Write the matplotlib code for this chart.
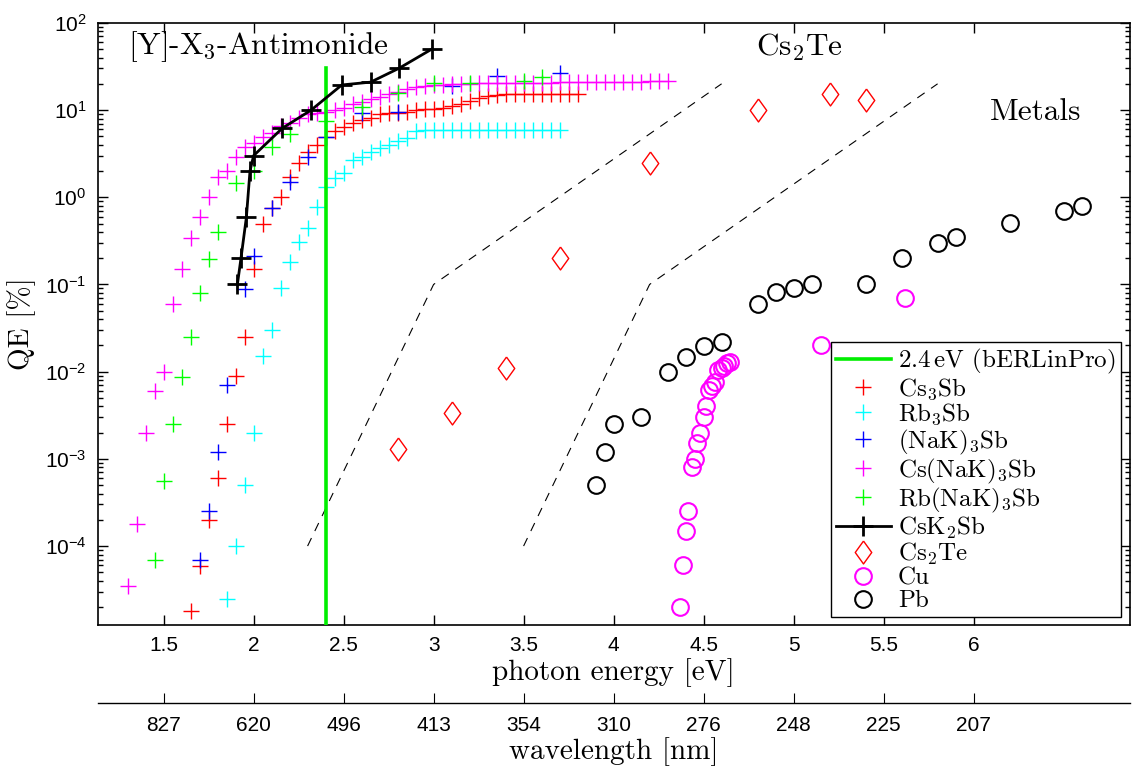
import matplotlib
matplotlib.use('Agg')  # no display
import matplotlib.pyplot as plt
from matplotlib.font_manager import FontProperties
from matplotlib.ticker import LogLocator, NullFormatter

# ---- data (photon energy in eV, QE in %) ----
cs3sb_e = [1.65, 1.70, 1.75, 1.80, 1.85, 1.90, 1.95, 2.00, 2.05, 2.10, 2.15, 2.20, 2.25, 2.30, 2.35,
           2.40, 2.45, 2.50, 2.55, 2.60, 2.65, 2.70, 2.75, 2.80, 2.85, 2.90, 2.95, 3.00, 3.05, 3.10,
           3.15, 3.20, 3.25, 3.30, 3.35, 3.40, 3.45, 3.50, 3.55, 3.60, 3.65, 3.70, 3.75, 3.80]
cs3sb_qe = [1.8e-5, 5.9e-5, 2.0e-4, 6.0e-4, 2.5e-3, 9.0e-3, 0.025, 0.15, 0.5, 0.75, 1.0, 1.7, 2.5, 3.3, 4.0,
            4.9, 5.7, 6.4, 7.1, 7.7, 8.1, 9.0, 9.2, 9.3, 9.5, 10.0, 10.3, 10.4, 10.6, 11.1,
            11.7, 12.7, 13.7, 14.5, 15.0, 15.2, 15.3, 15.3, 15.3, 15.3, 15.3, 15.3, 15.3, 15.3]

rb3sb_e = [1.85, 1.90, 1.95, 2.00, 2.05, 2.10, 2.15, 2.20, 2.25, 2.30, 2.35, 2.40, 2.45, 2.50, 2.55,
           2.60, 2.65, 2.70, 2.75, 2.80, 2.85, 2.90, 2.95, 3.00, 3.05, 3.10, 3.15, 3.20, 3.25, 3.30,
           3.35, 3.40, 3.45, 3.50, 3.55, 3.60, 3.65, 3.70]
rb3sb_qe = [2.5e-5, 1.0e-4, 5.0e-4, 2.0e-3, 0.015, 0.03, 0.09, 0.18, 0.31, 0.44, 0.77, 1.3, 1.66, 1.9, 2.7,
            2.9, 3.3, 3.7, 4.0, 4.4, 4.8, 5.7, 5.9, 5.9, 5.9, 5.9, 5.9, 5.9, 5.9, 5.9,
            5.9, 5.9, 5.9, 5.9, 5.9, 5.9, 5.9, 5.9]

nak3sb_e = [1.70, 1.75, 1.80, 1.85, 1.95, 2.00, 2.10, 2.20, 2.30, 2.40, 2.60, 2.80, 3.10, 3.35, 3.70]
nak3sb_qe = [7.0e-5, 2.5e-4, 1.2e-3, 7.0e-3, 0.088, 0.21, 0.75, 1.5, 2.9, 4.9, 9.2, 9.5, 18.8, 24.5, 26.5]

csnak3sb_e = [1.30, 1.35, 1.40, 1.45, 1.50, 1.55, 1.60, 1.65, 1.70, 1.75, 1.80, 1.85, 1.90, 1.95, 2.00,
              2.05, 2.10, 2.15, 2.20, 2.25, 2.30, 2.35, 2.40, 2.45, 2.50, 2.55, 2.60, 2.65, 2.70, 2.75,
              2.80, 2.85, 2.90, 2.95, 3.00, 3.05, 3.10, 3.15, 3.20, 3.25, 3.30, 3.35, 3.40, 3.45, 3.50,
              3.55, 3.60, 3.65, 3.70, 3.75, 3.80, 3.85, 3.90, 3.95, 4.00, 4.05, 4.10, 4.15, 4.20, 4.25,
              4.30]
csnak3sb_qe = [3.5e-5, 1.8e-4, 2.0e-3, 6.0e-3, 1.0e-2, 0.06, 0.15, 0.34, 0.6, 1.0, 1.7, 2.0, 2.9, 3.8, 4.2,
               4.9, 5.4, 6.5, 7.1, 8.1, 9.0, 9.2, 9.5, 10.0, 10.5, 11.7, 12.4, 13.4, 14.1, 15.3,
               16.1, 17.4, 18.4, 19.0, 19.4, 19.6, 19.8, 20.0, 20.1, 20.2, 20.3, 20.4, 20.5, 20.5, 20.6,
               20.6, 20.7, 20.7, 20.8, 20.8, 20.9, 20.9, 21.0, 21.0, 21.1, 21.1, 21.2, 21.2, 21.3, 21.3,
               21.4]

rbnak3sb_e = [1.45, 1.50, 1.55, 1.60, 1.65, 1.70, 1.75, 1.80, 1.90, 2.00, 2.10, 2.20, 2.40, 2.60, 2.80,
              3.00, 3.20, 3.50, 3.60]
rbnak3sb_qe = [7.0e-5, 5.5e-4, 2.5e-3, 8.7e-3, 0.025, 0.08, 0.195, 0.40, 1.46, 2.0, 3.8, 5.3, 7.5, 10.8, 15.7,
               20.4, 20.4, 21.5, 23.9]

csk2sb_e = [1.91, 1.93, 1.96, 1.98, 2.00, 2.16, 2.32, 2.49, 2.65, 2.81, 2.99]
csk2sb_qe = [0.10, 0.20, 0.59, 2.0, 3.0, 6.2, 10.0, 19.4, 20.9, 30.3, 50.0]

cs2te_e = [2.8, 3.1, 3.4, 3.7, 4.2, 4.8, 5.2, 5.4]
cs2te_qe = [1.3e-3, 3.4e-3, 0.011, 0.20, 2.5, 10.0, 15.2, 13.0]

cu_e = [4.37, 4.385, 4.40, 4.415, 4.435, 4.45, 4.465, 4.48, 4.50, 4.515, 4.53, 4.545, 4.565, 4.58,
        4.60, 4.615, 4.63, 4.645, 5.15, 5.62]
cu_qe = [2.0e-5, 6.0e-5, 1.5e-4, 2.5e-4, 8.0e-4, 1.0e-3, 1.5e-3, 2.0e-3, 3.0e-3, 4.0e-3, 6.2e-3, 6.8e-3,
         7.6e-3, 0.0105, 0.011, 0.0116, 0.0126, 0.0129, 0.020, 0.070]

pb_e = [3.9, 3.95, 4.0, 4.15, 4.3, 4.4, 4.5, 4.6, 4.8, 4.9, 5.0, 5.1, 5.4, 5.6, 5.8, 5.9, 6.2, 6.5, 6.6]
pb_qe = [5.0e-4, 1.2e-3, 2.5e-3, 3.0e-3, 0.01, 0.0147, 0.0197, 0.022, 0.06, 0.082, 0.091, 0.10, 0.10,
         0.20, 0.30, 0.35, 0.51, 0.69, 0.79]

# dashed guide lines between the groups
guide1_e = [2.3, 3.0, 4.6]
guide1_qe = [1e-4, 0.1, 20]
guide2_e = [3.5, 4.2, 5.8]
guide2_qe = [1e-4, 0.1, 20]

laser_e = 2.4
laser_qe = [1e-6, 30]

e_ticks = [1.5, 2, 2.5, 3, 3.5, 4, 4.5, 5, 5.5, 6]
e_labels = ['1.5', '2', '2.5', '3', '3.5', '4', '4.5', '5', '5.5', '6']
wl_labels = ['827', '620', '496', '413', '354', '310', '276', '248', '225', '207']

plt.rcParams['font.family'] = ['Liberation Sans', 'DejaVu Sans']
plt.rcParams['xtick.direction'] = 'in'
plt.rcParams['ytick.direction'] = 'in'

RED, CYAN, BLUE, MAGENTA, GREEN = '#ff0000', '#00ffff', '#0000ff', '#ff00ff', '#00ff00'


def cm(size):
    return FontProperties(family=['cmr10', 'DejaVu Serif'], size=size, math_fontfamily='cm')


fig = plt.figure(figsize=(11.34, 7.67), dpi=100)
ax = fig.add_axes([0.086, 0.185, 0.9105, 0.7852])

ax.plot([laser_e, laser_e], laser_qe, color='#00ee00', lw=2.6, label='2.4$\\,$eV (bERLinPro)', zorder=3)
plus = dict(ls='none', marker='+', ms=12, mew=1.0)
ax.plot(cs3sb_e, cs3sb_qe, color=RED, label='Cs$_3$Sb', **plus)
ax.plot(rb3sb_e, rb3sb_qe, color=CYAN, label='Rb$_3$Sb', **plus)
ax.plot(nak3sb_e, nak3sb_qe, color=BLUE, label='(NaK)$_3$Sb', **plus)
ax.plot(csnak3sb_e, csnak3sb_qe, color=MAGENTA, label='Cs(NaK)$_3$Sb', **plus)
ax.plot(rbnak3sb_e, rbnak3sb_qe, color=GREEN, label='Rb(NaK)$_3$Sb', **plus)
ax.plot(csk2sb_e, csk2sb_qe, color='k', lw=2, marker='+', ms=14, mew=2, label='CsK$_2$Sb', zorder=4)
diamond = [(0, 1), (0.72, 0), (0, -1), (-0.72, 0), (0, 1)]
ax.plot(cs2te_e, cs2te_qe, ls='none', marker=diamond, ms=16.5, mfc='none', mec=RED, mew=1.0, label='Cs$_2$Te')
ax.plot(cu_e, cu_qe, ls='none', marker='o', ms=12, mfc='none', mec=MAGENTA, mew=1.5, label='Cu')
ax.plot(pb_e, pb_qe, ls='none', marker='o', ms=12, mfc='none', mec='k', mew=1.5, label='Pb')

ax.plot(guide1_e, guide1_qe, color='k', lw=0.8, dashes=[8, 7])
ax.plot(guide2_e, guide2_qe, color='k', lw=0.8, dashes=[8, 7])

ax.set_yscale('log')
ax.set_xlim(1.133, 6.869)
ax.set_ylim(1.24e-5, 100)
ax.set_xticks(e_ticks)
ax.set_xticklabels(e_labels)
ax.yaxis.set_major_locator(LogLocator(base=10, numticks=12))
ax.yaxis.set_minor_locator(LogLocator(base=10, subs=range(2, 10), numticks=12))
ax.yaxis.set_minor_formatter(NullFormatter())
ax.tick_params(which='both', top=True, right=True, labelsize=15, width=1.0)
ax.tick_params(which='major', length=7)
ax.tick_params(which='minor', length=3.5)
ax.tick_params(axis='x', pad=8)
ax.tick_params(axis='y', pad=8)
for s in ax.spines.values():
    s.set_linewidth(1.2)

ax.set_xlabel('photon energy [eV]', fontproperties=cm(21), labelpad=2)
ax.set_ylabel('QE [%]', fontproperties=cm(21), labelpad=6)

ax.text(1.30, 53, '[Y]-X$_3$-Antimonide', fontproperties=cm(22.5), va='center', ha='left')
ax.text(4.79, 53, 'Cs$_2$Te', fontproperties=cm(22.5), va='center', ha='left')
ax.text(6.09, 9.5, 'Metals', fontproperties=cm(22.5), va='center', ha='left')

leg = ax.legend(loc='lower right', bbox_to_anchor=(0.991, 0.013), prop=cm(18), frameon=True,
                fancybox=False, edgecolor='k', framealpha=1, labelspacing=0.0, borderpad=0.2,
                handlelength=2.2, handletextpad=0.3, borderaxespad=0)
leg.get_frame().set_linewidth(1.0)

# wavelength scale underneath
ax2 = fig.add_axes([0.086, 0.0834, 0.9105, 0.0001])
ax2.patch.set_visible(False)
for s in ['top', 'left', 'right']:
    ax2.spines[s].set_visible(False)
ax2.spines['bottom'].set_linewidth(1.0)
ax2.set_xlim(ax.get_xlim())
ax2.set_yticks([])
ax2.set_xticks(e_ticks)
ax2.set_xticklabels(wl_labels)
ax2.tick_params(axis='x', direction='in', length=7, labelsize=15, pad=9)
ax2.set_xlabel('wavelength [nm]', fontproperties=cm(21), labelpad=2)

fig.savefig('out.png', dpi=100)
plt.close(fig)
